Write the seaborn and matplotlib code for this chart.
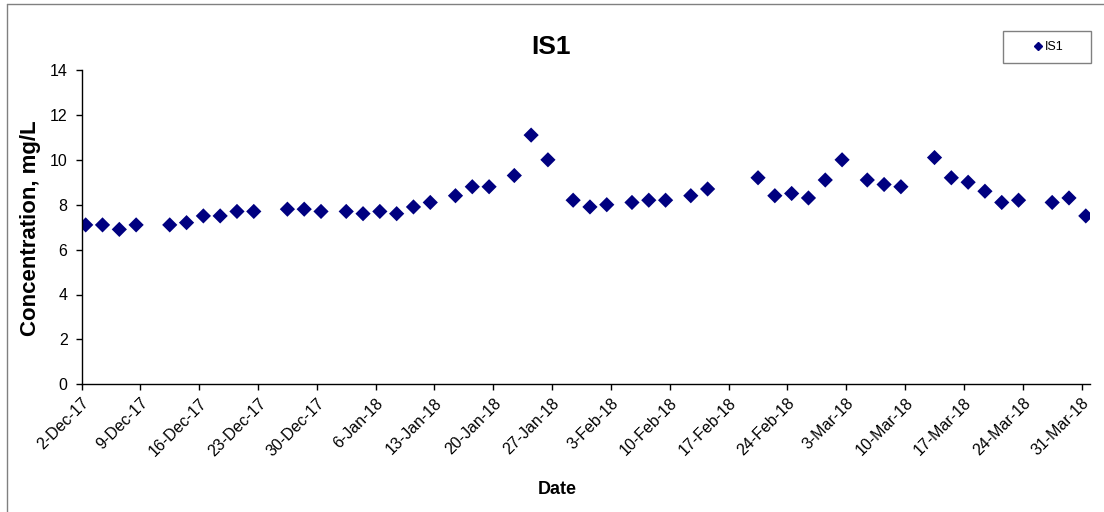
import matplotlib
matplotlib.use("Agg")
import matplotlib.pyplot as plt
from matplotlib.lines import Line2D
from matplotlib.patches import Rectangle
import seaborn as sns
import pandas as pd

# ---- data ----
dates = [
    "2017-12-02", "2017-12-04", "2017-12-06", "2017-12-08", "2017-12-12", "2017-12-14",
    "2017-12-16", "2017-12-18", "2017-12-20", "2017-12-22", "2017-12-26", "2017-12-28",
    "2017-12-30", "2018-01-02", "2018-01-04", "2018-01-06", "2018-01-08", "2018-01-10",
    "2018-01-12", "2018-01-15", "2018-01-17", "2018-01-19", "2018-01-22", "2018-01-24",
    "2018-01-26", "2018-01-29", "2018-01-31", "2018-02-02", "2018-02-05", "2018-02-07",
    "2018-02-09", "2018-02-12", "2018-02-14", "2018-02-20", "2018-02-22", "2018-02-24",
    "2018-02-26", "2018-02-28", "2018-03-02", "2018-03-05", "2018-03-07", "2018-03-09",
    "2018-03-13", "2018-03-15", "2018-03-17", "2018-03-19", "2018-03-21", "2018-03-23",
    "2018-03-27", "2018-03-29", "2018-03-31",
]
is1_values = [
    7.1, 7.1, 6.9, 7.1, 7.1, 7.2,
    7.5, 7.5, 7.7, 7.7, 7.8, 7.8,
    7.7, 7.7, 7.6, 7.7, 7.6, 7.9,
    8.1, 8.4, 8.8, 8.8, 9.3, 11.1,
    10.0, 8.2, 7.9, 8.0, 8.1, 8.2,
    8.2, 8.4, 8.7, 9.2, 8.4, 8.5,
    8.3, 9.1, 10.0, 9.1, 8.9, 8.8,
    10.1, 9.2, 9.0, 8.6, 8.1, 8.2,
    8.1, 8.3, 7.5,
]
tick_labels = [
    "2-Dec-17", "9-Dec-17", "16-Dec-17", "23-Dec-17", "30-Dec-17", "6-Jan-18",
    "13-Jan-18", "20-Jan-18", "27-Jan-18", "3-Feb-18", "10-Feb-18", "17-Feb-18",
    "24-Feb-18", "3-Mar-18", "10-Mar-18", "17-Mar-18", "24-Mar-18", "31-Mar-18",
]
y_ticks = [0, 2, 4, 6, 8, 10, 12, 14]
series_name = "IS1"

# ---- figure ----
sns.set_theme(style="white")
plt.rcParams["font.family"] = ["Liberation Sans", "DejaVu Sans"]
plt.rcParams["text.color"] = "black"

df = pd.DataFrame({"Date": pd.to_datetime(dates), "Concentration": is1_values})
# Excel date axis: points sit in the middle of each day slot
df["Date"] = df["Date"] + pd.Timedelta(hours=12)
df["Series"] = series_name

fig = plt.figure(figsize=(11.04, 5.12), dpi=100)
fig.patch.set_facecolor("white")
ax = fig.add_axes([81.5 / 1104, 1 - 384.3 / 512, (1090 - 81.5) / 1104, (384.3 - 70) / 512])

sns.scatterplot(data=df, x="Date", y="Concentration", hue="Series",
                palette={series_name: "#000080"}, marker="D", s=60,
                edgecolor="none", linewidth=0, ax=ax, legend=False)

tick_pos = pd.to_datetime(tick_labels, format="%d-%b-%y")
ax.set_xlim(tick_pos[0], tick_pos[-1] + pd.Timedelta(days=1))
ax.set_xticks(tick_pos)
ax.set_xticklabels(tick_labels, rotation=45, ha="right", rotation_mode="anchor", fontsize=11.5)
ax.set_ylim(0, 14)
ax.set_yticks(y_ticks)
ax.set_yticklabels([str(v) for v in y_ticks], fontsize=11.5)
ax.set_xlabel("")
ax.set_ylabel("")

for s in ["top", "right"]:
    ax.spines[s].set_visible(False)
for s in ["left", "bottom"]:
    ax.spines[s].set_color("black")
    ax.spines[s].set_linewidth(1.0)
ax.tick_params(axis="both", direction="out", length=4, width=1, color="black",
               labelcolor="black", left=True, bottom=True)
ax.tick_params(axis="y", pad=6)
ax.tick_params(axis="x", pad=4)
ax.grid(False)

fig.text(551 / 1104, 1 - 47 / 512, "IS1", fontsize=19, fontweight="bold",
         ha="center", va="center", color="black")
fig.text(557 / 1104, 1 - 490 / 512, "Date", fontsize=13, fontweight="bold",
         ha="center", va="center", color="black")
fig.text(31 / 1104, 1 - 228 / 512, "Concentration, mg/L", fontsize=16, fontweight="bold",
         ha="center", va="center", rotation=90, color="black")

# legend: frame drawn as a box, entry centred in it
fig.add_artist(Rectangle((1003 / 1104, 1 - 63 / 512), 88 / 1104, 32 / 512,
                         transform=fig.transFigure, facecolor="white",
                         edgecolor="#808080", linewidth=1.0))
handle = Line2D([], [], marker="D", color="#000080", linestyle="none", markersize=4)
leg = fig.legend([handle], [series_name], loc="center",
                 bbox_to_anchor=(1049 / 1104, 1 - 47 / 512), frameon=False,
                 fontsize=9, handlelength=0.5, handletextpad=0.3,
                 borderpad=0, borderaxespad=0, labelcolor="black")

# outer chart-area frame (visible left/top edges)
fig.add_artist(Line2D([7 / 1104, 7 / 1104], [0, 1 - 4 / 512], transform=fig.transFigure,
                      color="#808080", linewidth=1))
fig.add_artist(Line2D([7 / 1104, 1], [1 - 4 / 512, 1 - 4 / 512], transform=fig.transFigure,
                      color="#808080", linewidth=1))

fig.savefig("out.png", dpi=100, facecolor="white")
